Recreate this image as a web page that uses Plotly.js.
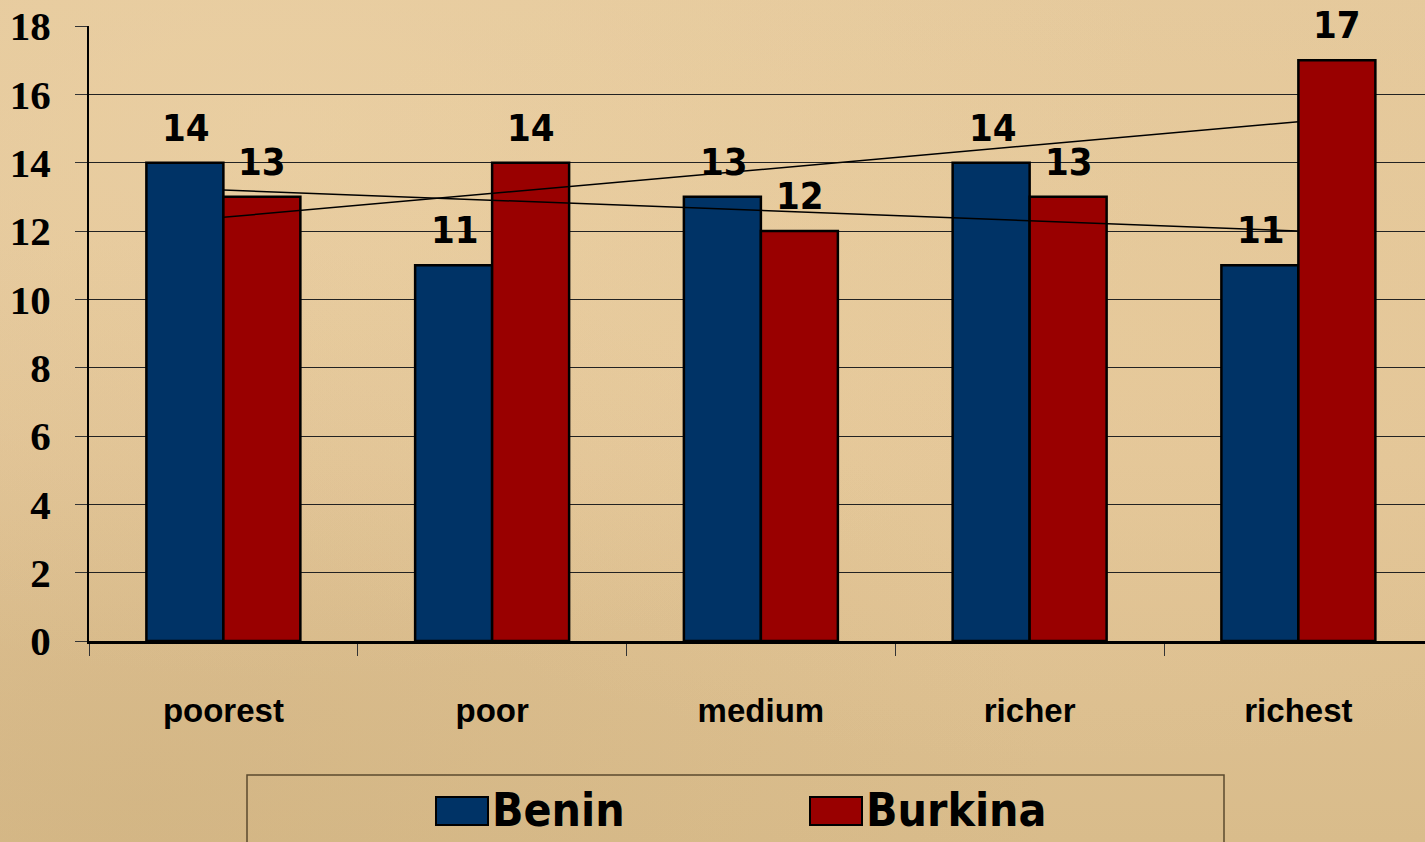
<!DOCTYPE html>
<html>
<head>
<meta charset="utf-8">
<script src="https://cdn.plot.ly/plotly-3.0.1.min.js"></script>
<style>
  html, body { margin: 0; padding: 0; }
  body {
    width: 1425px; height: 842px; overflow: hidden;
    background:
      radial-gradient(ellipse at 20% 15%, rgba(238,212,168,0.5), rgba(238,212,168,0) 55%),
      radial-gradient(ellipse at 75% 40%, rgba(234,206,158,0.45), rgba(234,206,158,0) 60%),
      radial-gradient(ellipse at 10% 95%, rgba(200,170,120,0.35), rgba(200,170,120,0) 50%),
      linear-gradient(180deg, #e5c99c 0%, #e2c496 55%, #d9bc8b 100%);
  }
  #chart { width: 1425px; height: 842px; }
</style>
</head>
<body>
<div id="chart"></div>
<script>
// ---- data ----
const categories = ['poorest', 'poor', 'medium', 'richer', 'richest'];
const seriesNames = ['Benin', 'Burkina'];
const beninValues = [14, 11, 13, 14, 11];
const burkinaValues = [13, 14, 12, 13, 17];
// trend line end values
const beninTrend = [13.2, 12.0];
const burkinaTrend = [12.4, 15.2];
const yTickVals = [0, 2, 4, 6, 8, 10, 12, 14, 16, 18];

// ---- styles ----
const beninColor = '#003366';
const burkinaColor = '#990000';
const W = 1425, H = 842;
const M = { l: 89, r: 0, t: 26, b: 201 };
const plotW = W - M.l - M.r, plotH = H - M.t - M.b;
const px = x => (x - M.l) / plotW;
const py = y => (H - M.b - y) / plotH;

const labelFont = { family: 'DejaVu Sans Condensed, DejaVu Sans, sans-serif', size: 38, weight: 'bold', color: '#000' };

const traces = [
  {
    type: 'bar', name: seriesNames[0], x: categories, y: beninValues,
    marker: { color: beninColor, line: { color: '#000', width: 2.5 } },
    showlegend: false, hoverinfo: 'x+y'
  },
  {
    type: 'bar', name: seriesNames[1], x: categories, y: burkinaValues,
    marker: { color: burkinaColor, line: { color: '#000', width: 2.5 } },
    showlegend: false, hoverinfo: 'x+y'
  },
  {
    type: 'scatter', mode: 'lines', name: seriesNames[0] + ' trend',
    x: [categories[0], categories[categories.length - 1]], y: beninTrend,
    line: { color: '#000', width: 1.5 }, showlegend: false, hoverinfo: 'skip'
  },
  {
    type: 'scatter', mode: 'lines', name: seriesNames[1] + ' trend',
    x: [categories[0], categories[categories.length - 1]], y: burkinaTrend,
    line: { color: '#000', width: 1.5 }, showlegend: false, hoverinfo: 'skip'
  }
];

const annotations = [];
categories.forEach((c, i) => {
  annotations.push({
    x: c, y: beninValues[i], xref: 'x', yref: 'y', text: String(beninValues[i]),
    showarrow: false, xshift: -37, yshift: 35, yanchor: 'middle', font: labelFont
  });
  annotations.push({
    x: c, y: burkinaValues[i], xref: 'x', yref: 'y', text: String(burkinaValues[i]),
    showarrow: false, xshift: 39, yshift: 35, yanchor: 'middle', font: labelFont
  });
});

// custom legend
const legendFont = { family: 'DejaVu Sans Condensed, DejaVu Sans, sans-serif', size: 46, weight: 'bold', color: '#000' };
const legendItems = [
  { name: seriesNames[0], color: beninColor, sx: 436 },
  { name: seriesNames[1], color: burkinaColor, sx: 810 }
];
const shapes = [
  { type: 'rect', xref: 'paper', yref: 'paper', x0: px(247), x1: px(1224), y0: py(775), y1: py(870),
    line: { color: '#5b4a2e', width: 1.5 }, fillcolor: 'rgba(0,0,0,0)', layer: 'above' }
];
legendItems.forEach(it => {
  shapes.push({ type: 'rect', xref: 'paper', yref: 'paper', x0: px(it.sx), x1: px(it.sx + 52),
    y0: py(797), y1: py(825), fillcolor: it.color, line: { color: '#000', width: 2 }, layer: 'above' });
  annotations.push({ xref: 'paper', yref: 'paper', x: px(it.sx + 54), y: py(810), text: it.name,
    xanchor: 'left', yanchor: 'middle', showarrow: false, font: legendFont });
});

const layout = {
  width: W, height: H, margin: M,
  paper_bgcolor: 'rgba(0,0,0,0)', plot_bgcolor: 'rgba(0,0,0,0)',
  barmode: 'group', bargap: 0.427, bargroupgap: 0,
  showlegend: false,
  xaxis: {
    type: 'category', range: [-0.5, -0.5 + plotW / 268.75],
    showline: true, linecolor: '#000', linewidth: 3,
    ticks: 'outside', tickson: 'boundaries', ticklen: 12, tickcolor: '#333', tickwidth: 1,
    showgrid: false, zeroline: false,
    tickfont: { family: 'Liberation Sans Narrow, Liberation Sans, Arial, sans-serif', size: 33, weight: 'bold', color: '#000' },
    ticklabelstandoff: 38
  },
  yaxis: {
    range: [0, 18], tickvals: yTickVals, ticktext: yTickVals.map(String),
    showline: true, linecolor: '#000', linewidth: 2,
    ticks: 'outside', ticklen: 12, tickcolor: '#333', tickwidth: 1,
    showgrid: true, gridcolor: '#222', gridwidth: 1, zeroline: false,
    tickfont: { family: 'Liberation Serif, Times New Roman, serif', size: 41, weight: 'bold', color: '#000' },
    ticklabelstandoff: 16
  },
  shapes: shapes,
  annotations: annotations
};

Plotly.newPlot('chart', traces, layout, { displayModeBar: false, staticPlot: true });
</script>
</body>
</html>
